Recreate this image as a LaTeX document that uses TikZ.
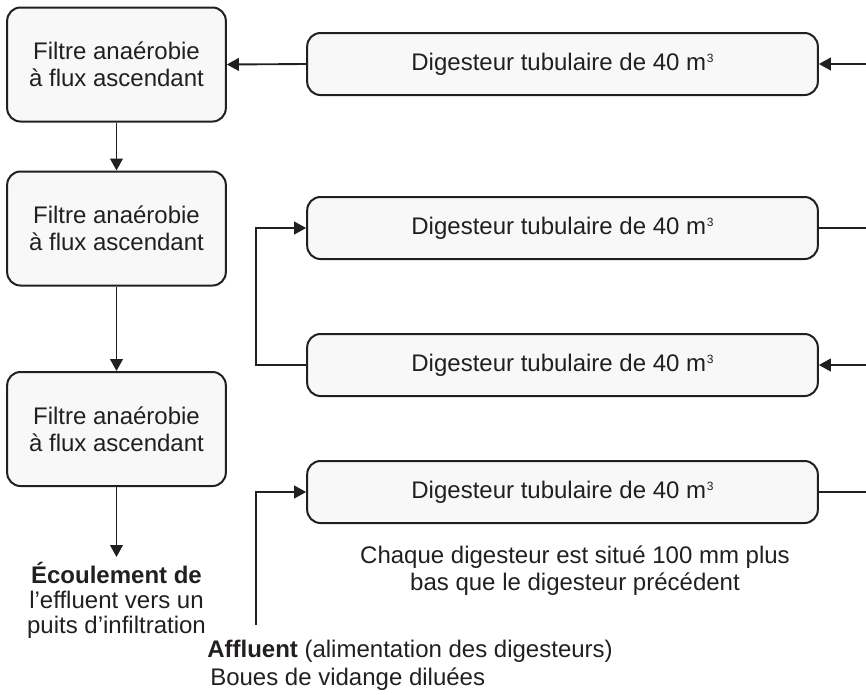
\documentclass[tikz,border=0pt]{standalone}
\usepackage{fontspec}
\setmainfont{Liberation Sans}
\usetikzlibrary{arrows.meta}
\definecolor{ink}{HTML}{231F20}
\definecolor{boxfill}{HTML}{F8F8F8}
% small raised exponent
\newcommand{\cubed}{\kern0.5pt\raisebox{5.5pt}{\fontsize{9}{9}\selectfont 3}}
\begin{document}
\begin{tikzpicture}[x=0.75pt,y=-0.75pt,
  every node/.style={font=\fontsize{18}{20.25}\selectfont, text=ink},
  filterbox/.style={draw=ink, fill=boxfill, line width=1.5pt, rounded corners=10pt,
    minimum width=164pt, minimum height=85.5pt, align=center, inner sep=0pt},
  digbox/.style={draw=ink, fill=boxfill, line width=1.5pt, rounded corners=10pt,
    minimum width=383pt, minimum height=46.5pt, inner sep=0pt},
  flow/.style={draw=ink, line width=1.4pt, -{Triangle[length=9pt,width=9.5pt]}},
  pipe/.style={draw=ink, line width=1.4pt},
  txt/.style={inner sep=0pt, anchor=base},
  txtleft/.style={inner sep=0pt, anchor=base west}]
\useasboundingbox (0,0) rectangle (866,694);

% anaerobic filters (left column)
\node[filterbox] (f1) at (116.5,64.5) {Filtre anaérobie\\à flux ascendant};
\node[filterbox] (f2) at (116.5,228.5) {Filtre anaérobie\\à flux ascendant};
\node[filterbox] (f3) at (116.5,429) {Filtre anaérobie\\à flux ascendant};

% tubular digesters (right column)
\node[digbox] (d1) at (562.5,64) {Digesteur tubulaire de 40 m\cubed};
\node[digbox] (d2) at (562.5,228) {Digesteur tubulaire de 40 m\cubed};
\node[digbox] (d3) at (562.5,365) {Digesteur tubulaire de 40 m\cubed};
\node[digbox] (d4) at (562.5,492) {Digesteur tubulaire de 40 m\cubed};

% free ends of the pipes
\coordinate (e1) at (866,64);
\coordinate (e2) at (866,228);
\coordinate (e3) at (866,365);
\coordinate (e4) at (866,492);
\coordinate (riser) at (256,0);
\coordinate (feed) at (256,625);
\coordinate (out) at (116.5,557);

% connections
\draw[flow] (e1) -- (d1.east);
\draw[flow] (d1.west) -- (f1.east);
\draw[pipe] (d2.east) -- (e2);
\draw[flow] (e3) -- (d3.east);
\draw[flow] (d3.west) -- (d3.west -| riser) -- (d2.west -| riser) -- (d2.west);
\draw[pipe] (d4.east) -- (e4);
\draw[flow] (feed) |- (d4.west);
\draw[flow] (f1.south) -- (f2.north);
\draw[flow] (f2.south) -- (f3.north);
\draw[flow] (f3.south) -- (out);

% outflow label
\node[txt] (o1) at (116.5,583) {\textbf{Écoulement de}};
\node[txt] (o2) at (116.5,608) {l’effluent vers un};
\node[txt] (o3) at (116.5,633) {puits d’infiltration};

% feed label
\node[txtleft] (a1) at (207,657) {\textbf{Affluent} (alimentation des digesteurs)};
\node[txtleft] (a2) at (210,685) {Boues de vidange diluées};

% note under the digesters
\node[txt] (n1) at (575,563) {Chaque digesteur est situé 100 mm plus};
\node[txt] (n2) at (575,590) {bas que le digesteur précédent};
\end{tikzpicture}
\end{document}
